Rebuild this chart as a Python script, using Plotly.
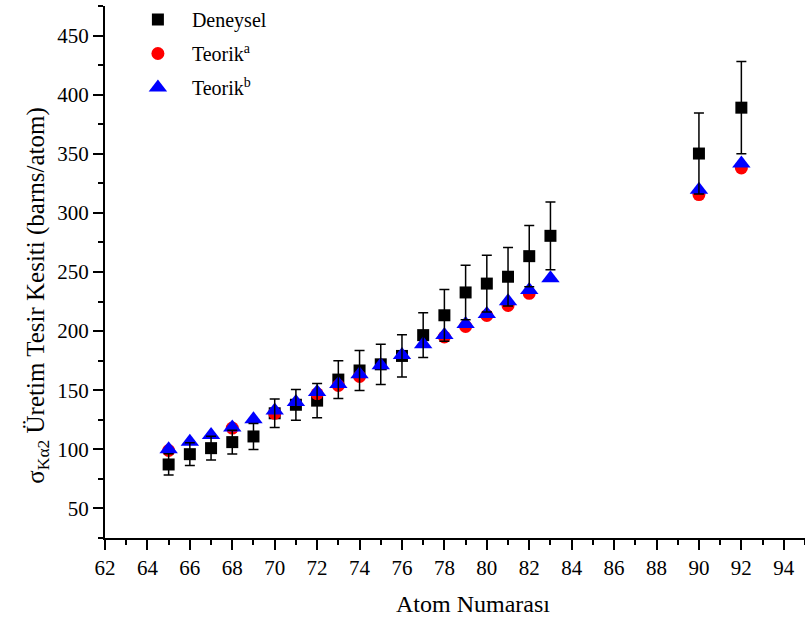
import plotly.graph_objects as go

# Atomic numbers
z_exp = [65, 66, 67, 68, 69, 70, 71, 72, 73, 74, 75, 76, 77, 78, 79, 80, 81, 82, 83, 90, 92]
# Deneysel (experimental) values and errors
y_exp = [87.2, 95.9, 101.0, 106.1, 110.9, 130.5, 137.7, 141.2, 159.0, 166.7, 171.9, 179.0,
         196.6, 213.4, 232.7, 240.2, 246.0, 263.4, 280.6, 350.2, 389.0]
err_exp = [9.0, 9.6, 10.1, 10.0, 11.0, 12.0, 13.0, 14.5, 15.9, 16.9, 17.0, 17.9,
           18.9, 21.9, 23.0, 24.0, 24.8, 25.9, 28.7, 34.2, 39.0]

# Teorik^a
z_a = [65, 68, 70, 72, 73, 74, 78, 79, 80, 81, 82, 90, 92]
y_a = [99.0, 118.0, 130.5, 147.0, 154.0, 161.6, 195.0, 204.0, 213.2, 221.7, 232.0, 315.5, 338.0]

# Teorik^b
z_b = [65, 66, 67, 68, 69, 70, 71, 72, 73, 74, 75, 76, 77, 78, 79, 80, 81, 82, 83, 90, 92]
y_b = [100.1, 106.4, 112.1, 118.5, 125.4, 132.8, 140.1, 148.5, 155.3, 163.5, 171.1, 179.8,
       188.9, 196.7, 206.1, 214.5, 225.2, 234.8, 244.7, 319.5, 341.8]

x_ticks = list(range(62, 96, 2))
y_ticks = list(range(50, 451, 50))

FONT = "Liberation Serif"

fig = go.Figure()
fig.add_trace(go.Scatter(
    x=z_exp, y=y_exp, mode="markers", name="Deneysel", legendgroup="g1",
    marker=dict(symbol="square", size=12, color="black"),
))
fig.add_trace(go.Scatter(
    x=z_a, y=y_a, mode="markers", name="Teorik<sup>a</sup>", legendgroup="g2",
    marker=dict(symbol="circle", size=13, color="#ff0000"),
))
fig.add_trace(go.Scatter(
    x=z_b, y=y_b, mode="markers", name="Teorik<sup>b</sup>", legendgroup="g3",
    marker=dict(symbol="triangle-up", size=16, color="#0000ff"),
))
# error bars of experimental data, drawn on top
fig.add_trace(go.Scatter(
    x=z_exp, y=y_exp, mode="markers", showlegend=False, hoverinfo="skip",
    marker=dict(size=1, color="rgba(0,0,0,0)"),
    error_y=dict(type="data", array=err_exp, visible=True, color="black",
                 thickness=1.5, width=5),
))

fig.update_layout(
    width=805, height=620,
    margin=dict(l=105, r=0, t=6, b=82, autoexpand=False),
    paper_bgcolor="white", plot_bgcolor="white",
    font=dict(family=FONT, size=21, color="black"),
    showlegend=True,
    legend=dict(x=0.027, y=1.007, xanchor="left", yanchor="top", yref="container",
                bgcolor="rgba(0,0,0,0)", font=dict(family=FONT, size=20),
                tracegroupgap=5, itemwidth=58),
    xaxis=dict(
        range=[62, 95], tickvals=x_ticks, ticktext=[str(v) for v in x_ticks],
        showgrid=False, zeroline=False, showline=True, linecolor="black", linewidth=2,
        ticks="outside", ticklen=10, tickwidth=2, tickcolor="black",
        minor=dict(dtick=1, tick0=62, ticks="outside", ticklen=5, tickwidth=2, tickcolor="black"),
        tickfont=dict(family=FONT, size=21),
    ),
    yaxis=dict(
        range=[25, 475], tickvals=y_ticks, ticktext=[str(v) for v in y_ticks],
        showgrid=False, zeroline=False, showline=True, linecolor="black", linewidth=2,
        ticks="outside", ticklen=10, tickwidth=2, tickcolor="black",
        minor=dict(dtick=25, tick0=25, ticks="outside", ticklen=5, tickwidth=2, tickcolor="black"),
        tickfont=dict(family=FONT, size=21),
    ),
    annotations=[
        dict(text="σ<sub>Kα2</sub> Üretim Tesir Kesiti (barns/atom)",
             xref="paper", yref="paper", x=-0.096, y=0.455,
             xanchor="center", yanchor="middle", textangle=-90, showarrow=False,
             font=dict(family=FONT, size=25)),
        dict(text="Atom Numarası",
             xref="paper", yref="paper", x=0.526, y=-0.124,
             xanchor="center", yanchor="middle", showarrow=False,
             font=dict(family=FONT, size=24)),
    ],
)

fig.write_html("out.html")
